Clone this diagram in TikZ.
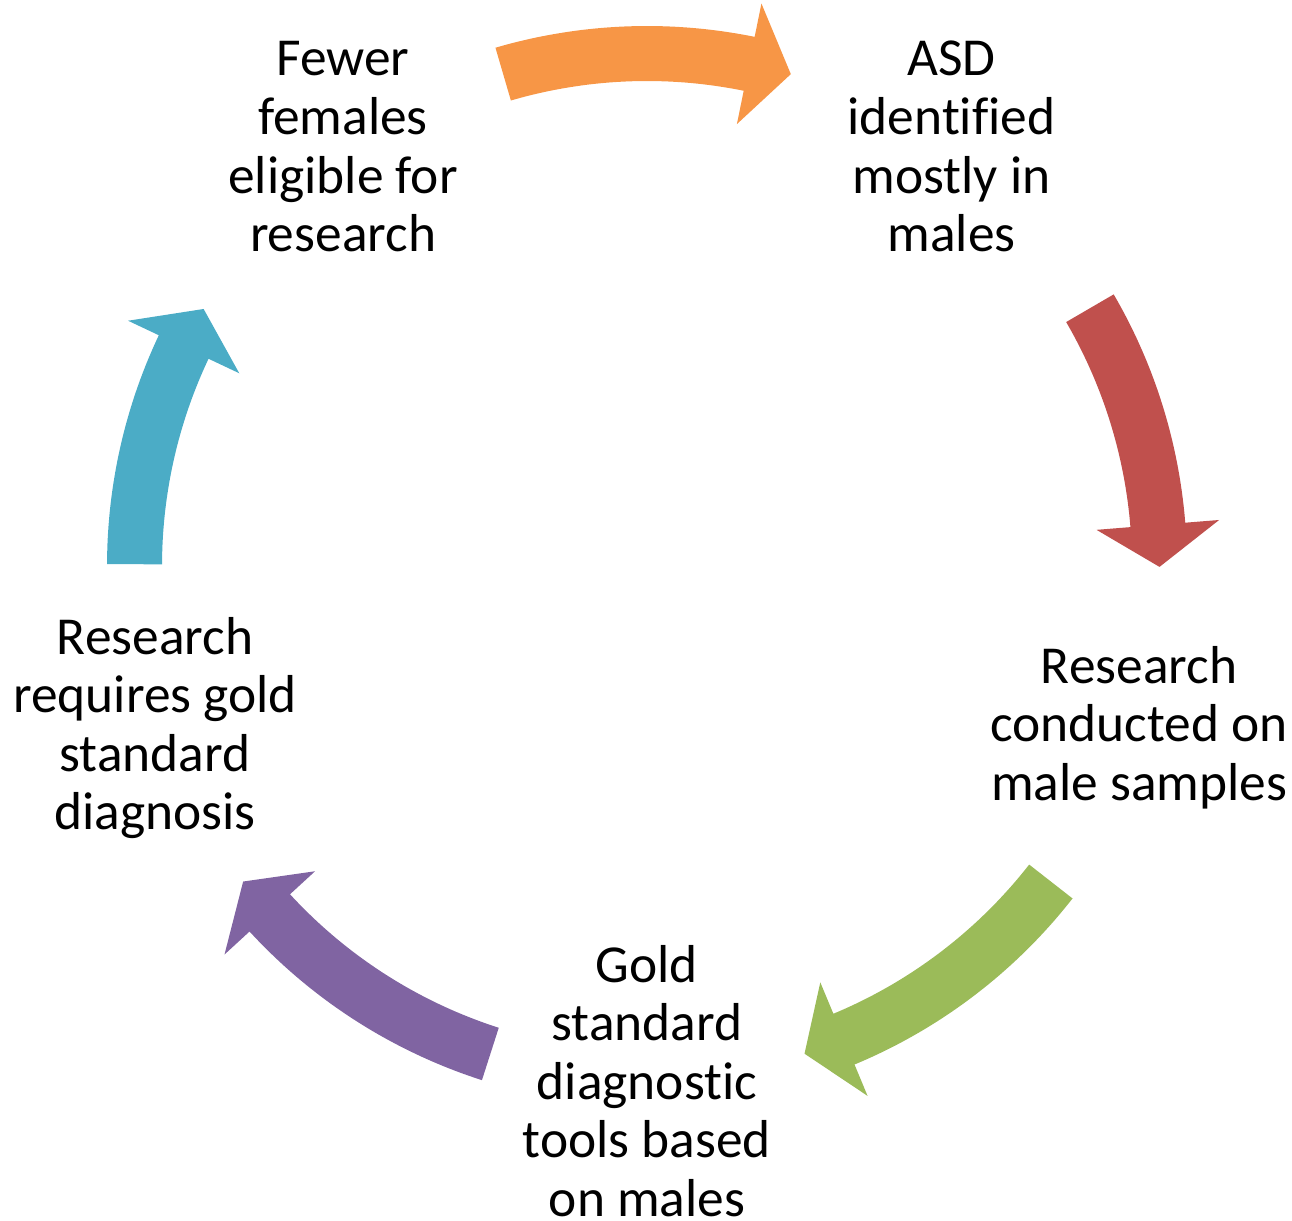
\documentclass[tikz,border=0pt]{standalone}
\usepackage{fontspec}
\setmainfont{Carlito}[Ligatures={NoCommon,NoContextual}]
\definecolor{cycOrange}{HTML}{F79646}
\definecolor{cycRed}{HTML}{C0504D}
\definecolor{cycGreen}{HTML}{9BBB59}
\definecolor{cycPurple}{HTML}{8064A2}
\definecolor{cycBlue}{HTML}{4BACC6}

% Curved block arrow on the cycle ring (centre 647,566).
% #1 fill style, #2 tail angle, #3 angle where the head starts, #4 tip angle
% (angles measured clockwise from the top).
\newcommand{\cycarrow}[4]{%
  \fill[#1]
    plot[domain=#2:#3, samples=40] ({647+540*sin(\x)},{566-540*cos(\x)})
    -- ({647+574*sin(#3)},{566-574*cos(#3)})
    -- ({647+512.5*sin(#4)},{566-512.5*cos(#4)})
    -- ({647+451*sin(#3)},{566-451*cos(#3)})
    -- ({647+485*sin(#3)},{566-485*cos(#3)})
    -- plot[domain=#3:#2, samples=40] ({647+485*sin(\x)},{566-485*cos(\x)})
    -- cycle;}

\begin{document}
\begin{tikzpicture}[x=1pt, y=-1pt,
  stage/.style={anchor=base, inner sep=0pt, font=\fontsize{53.4}{58.6}\selectfont},
  ringarrow/.style={draw=none}]
\useasboundingbox (0,0) rectangle (1292,1220);

% stages of the cycle
\node[stage] (females) at (343,76)
  {\begin{tabular}[t]{@{}c@{}}Fewer\\females\\eligible for\\research\end{tabular}};
\node[stage] (asd) at (951.5,76)
  {\begin{tabular}[t]{@{}c@{}}ASD\\identified\\mostly in\\males\end{tabular}};
\node[stage] (samples) at (1139,683)
  {\begin{tabular}[t]{@{}c@{}}Research\\conducted on\\male samples\end{tabular}};
\node[stage] (tools) at (647,982)
  {\begin{tabular}[t]{@{}c@{}}Gold\\standard\\diagnostic\\tools based\\on males\end{tabular}};
\node[stage] (requires) at (155,654)
  {\begin{tabular}[t]{@{}c@{}}Research\\requires gold\\standard\\diagnosis\end{tabular}};

% arrows around the ring
\cycarrow{ringarrow, fill=cycOrange}{-16.3}{11.5}{16.3}
\cycarrow{ringarrow, fill=cycRed}{59.8}{85.4}{90.1}
\cycarrow{ringarrow, fill=cycGreen}{128}{157.4}{162.1}
\cycarrow{ringarrow, fill=cycPurple}{197.8}{227.4}{232}
\cycarrow{ringarrow, fill=cycBlue}{270.2}{295.3}{300.1}
\end{tikzpicture}
\end{document}
